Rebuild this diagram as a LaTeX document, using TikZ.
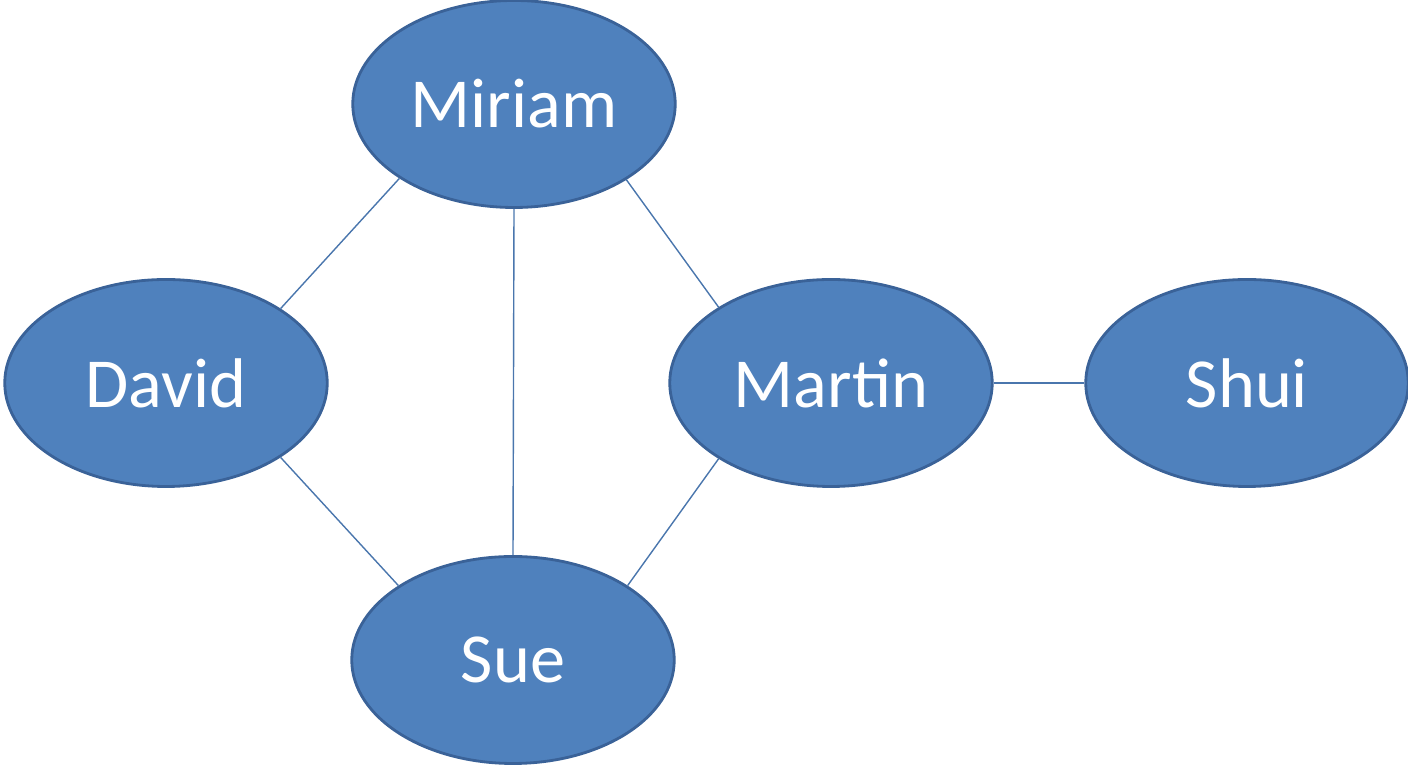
\documentclass[tikz,border=0pt]{standalone}
\usepackage{fontspec}
\setmainfont{Carlito}
\usetikzlibrary{shapes.geometric,positioning}
\definecolor{personfill}{HTML}{4F81BD}
\definecolor{persondraw}{HTML}{3A6298}
\definecolor{linkcol}{HTML}{4A76AD}
\tikzset{
  person/.style={ellipse, draw=persondraw, line width=1.6pt, fill=personfill,
    minimum width=6.45cm, minimum height=4.14cm, inner sep=0pt,
    text=white, font=\fontsize{40}{44}\selectfont},
  link/.style={draw=linkcol, line width=0.8pt}
}
\begin{document}
\begin{tikzpicture}
\useasboundingbox (0,0) rectangle (28.16,15.36);
{
\node[person] (miriam) at (10.28,13.28) {Miriam};
\node[person] (david) at (3.32,7.70) {David};
\node[person] (martin) at (16.62,7.70) {Martin};
\node[person] (shui) at (24.94,7.70) {Shui};
\node[person] (sue) at (10.26,2.16) {Sue};

\draw[link] (miriam.213.7)--(david.33);
\draw[link] (david.327)--(sue.147);
\draw[link] (miriam.south)--(sue.north);
\draw[link] (miriam.326)--(martin.146);
\draw[link] (martin.214)--(sue.33);
\draw[link] (martin.east)--(shui.west);
}
\end{tikzpicture}
\end{document}
